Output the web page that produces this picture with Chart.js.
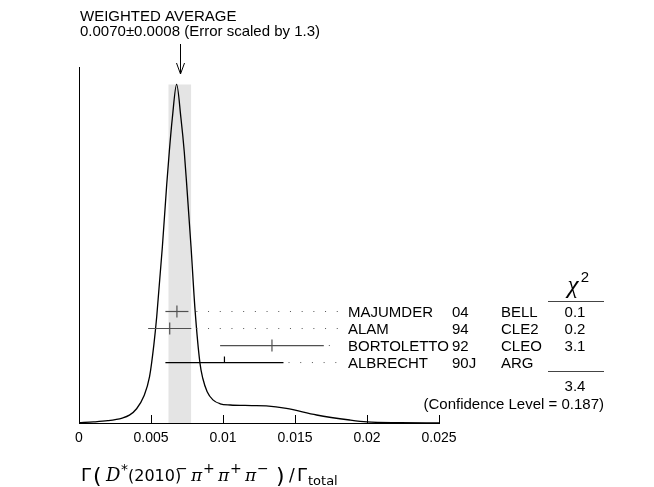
<!DOCTYPE html>
<html>
<head>
<meta charset="utf-8">
<script src="https://cdn.jsdelivr.net/npm/chart.js@4/dist/chart.umd.min.js"></script>
<style>
  html, body { margin: 0; padding: 0; background: #fff; }
  #wrap { width: 654px; height: 487px; position: relative; }
</style>
</head>
<body>
<div id="wrap"><canvas id="ideogram"></canvas></div>
<script>
const names = ['MAJUMDER', 'ALAM', 'BORTOLETTO', 'ALBRECHT'];
const years = ['04', '94', '92', '90J'];
const experiments = ['BELL', 'CLE2', 'CLEO', 'ARG'];
const values = [0.0068, 0.0063, 0.0134, 0.0101];
const errors = [0.0008, 0.0015, 0.0036, 0.0041];
const chi2 = ['0.1', '0.2', '3.1', ''];
const usedInFit = [true, true, true, false];

// weighted average
const average = 0.0070;
const averageError = 0.0008;
const chi2Total = '3.4';
const confidence = '0.187';

// ideogram curve (height relative to the frame)
const curveX = [0, 0.001, 0.002, 0.003, 0.0035, 0.004, 0.0045, 0.0049, 0.0052, 0.0054,
  0.00579, 0.00609, 0.00627, 0.00648, 0.00678, 0.00708, 0.00731, 0.00748, 0.00778, 0.00806,
  0.0084, 0.0086, 0.0089, 0.0093, 0.0098, 0.0105, 0.0120, 0.0130, 0.0144, 0.0165,
  0.0188, 0.0200, 0.0223, 0.025];
const curveY = [0.001, 0.003, 0.0065, 0.014, 0.022, 0.040, 0.075, 0.13, 0.22, 0.30,
  0.495, 0.669, 0.762, 0.856, 0.951, 0.856, 0.762, 0.669, 0.495, 0.317,
  0.168, 0.125, 0.088, 0.065, 0.054, 0.0505, 0.049, 0.048, 0.041, 0.0225,
  0.0084, 0.003, 0.0007, 0];

const xTicks = [0, 0.005, 0.01, 0.015, 0.02, 0.025];

// layout of the rows (y in frame units)
const rowTop = 0.3132;
const rowStep = 0.0478;
const tickH = 0.017;
const dotsEnd = 0.0181;

const bandLo = average - averageError;
const bandHi = average + averageError;
const peak = Math.max(...curveY);

const datasets = [];

// shaded band of the average
datasets.push({
  data: [{ x: bandLo, y: peak }, { x: bandHi, y: peak }],
  showLine: true, fill: 'origin', backgroundColor: '#e4e4e4',
  borderWidth: 0, pointRadius: 0, order: 10
});

// the ideogram
datasets.push({
  data: curveX.map((x, i) => ({ x: x, y: curveY[i] })),
  showLine: true, borderColor: '#000', borderWidth: 1.3,
  pointRadius: 0, cubicInterpolationMode: 'monotone', order: 1
});

// error bars + dotted leaders
names.forEach((n, i) => {
  const y = rowTop - i * rowStep;
  const v = values[i], e = errors[i];
  const col = usedInFit[i] ? '#505050' : '#000';
  datasets.push({
    data: [{ x: v - e, y: y }, { x: v + e, y: y }],
    showLine: true, borderColor: col, borderWidth: 1.2, pointRadius: 0, order: 0
  });
  datasets.push({
    data: usedInFit[i] ? [{ x: v, y: y - tickH }, { x: v, y: y + tickH }]
                       : [{ x: v, y: y }, { x: v, y: y + tickH }],
    showLine: true, borderColor: col, borderWidth: 1.2, pointRadius: 0, order: 0
  });
  datasets.push({
    data: [{ x: Math.max(v + e, bandHi) + 0.00035, y: y }, { x: dotsEnd, y: y }],
    showLine: true, borderColor: '#555', borderWidth: 1, borderDash: [1, 10.7],
    pointRadius: 0, order: 0
  });
});

const SANS = '"Liberation Sans", Arial, sans-serif';

// ticks pointing up into the frame + all the text
const decor = {
  id: 'decor',
  afterDraw(chart) {
    const { ctx, chartArea, scales } = chart;
    const xs = scales.x, ys = scales.y;
    ctx.save();

    ctx.strokeStyle = '#000';
    ctx.lineWidth = 1;
    xTicks.forEach(t => {
      const px = Math.round(xs.getPixelForValue(t)) + 0.5;
      ctx.beginPath();
      ctx.moveTo(px, chartArea.bottom);
      ctx.lineTo(px, chartArea.bottom - 8);
      ctx.stroke();
    });

    // title + arrow
    ctx.fillStyle = '#000';
    ctx.font = '15px ' + SANS;
    ctx.textAlign = 'left';
    ctx.textBaseline = 'alphabetic';
    ctx.fillText('WEIGHTED AVERAGE', 80, 21);
    ctx.fillText(average.toFixed(4) + '\u00b1' + averageError.toFixed(4) + ' (Error scaled by 1.3)', 80, 36);

    const ax = Math.round(xs.getPixelForValue(average)) + 0.5;
    ctx.beginPath();
    ctx.moveTo(ax, 44); ctx.lineTo(ax, 74);
    ctx.moveTo(ax - 4, 63); ctx.lineTo(ax, 74); ctx.lineTo(ax + 4, 63);
    ctx.stroke();

    // rows
    names.forEach((n, i) => {
      const py = ys.getPixelForValue(rowTop - i * rowStep) + 5.5;
      ctx.textAlign = 'left';
      ctx.fillText(n, 348, py);
      ctx.fillText(years[i], 452, py);
      ctx.fillText(experiments[i], 501, py);
      ctx.textAlign = 'center';
      ctx.fillText(chi2[i], 575, py);
    });

    // chi2 column
    ctx.textAlign = 'center';
    ctx.font = 'italic 25px "Liberation Serif", serif';
    ctx.fillText('\u03c7', 573, 293);
    ctx.font = '15px ' + SANS;
    ctx.fillText('2', 585, 282);
    ctx.strokeStyle = '#444';
    ctx.beginPath();
    ctx.moveTo(548, 301.5); ctx.lineTo(604, 301.5);
    ctx.moveTo(548, 371.5); ctx.lineTo(604, 371.5);
    ctx.stroke();
    ctx.fillText(chi2Total, 575, 391);
    ctx.textAlign = 'right';
    ctx.fillText('(Confidence Level = ' + confidence + ')', 604, 409);

    // x axis title
    ctx.textAlign = 'left';
    const base = 481;
    const parts = [
      ['\u0393', '18px "DejaVu Sans"', 81, 0],
      ['(', '22px "DejaVu Sans"', 93, 2],
      ['D', 'italic 18px "DejaVu Serif"', 106, 0],
      ['*', '14px "DejaVu Sans"', 121, -7],
      ['(2010)', '16px "DejaVu Sans"', 128, 0],
      ['\u2212', '14px "DejaVu Sans"', 176, -8],
      ['\u03c0', 'italic 17px "DejaVu Serif"', 191, 0],
      ['+', '14px "DejaVu Sans"', 203, -8],
      ['\u03c0', 'italic 17px "DejaVu Serif"', 218, 0],
      ['+', '14px "DejaVu Sans"', 230, -8],
      ['\u03c0', 'italic 17px "DejaVu Serif"', 245, 0],
      ['\u2212', '14px "DejaVu Sans"', 257, -8],
      [')', '22px "DejaVu Sans"', 276, 2],
      ['/', '17px "DejaVu Sans"', 289, 0],
      ['\u0393', '18px "DejaVu Sans"', 297, 0],
      ['total', '13px "DejaVu Sans"', 308, 4]
    ];
    parts.forEach(p => {
      ctx.font = p[1];
      ctx.fillText(p[0], p[2], base + p[3]);
    });

    ctx.restore();
  }
};

new Chart(document.getElementById('ideogram'), {
  type: 'scatter',
  data: { datasets: datasets },
  options: {
    responsive: true,
    maintainAspectRatio: false,
    animation: false,
    events: [],
    layout: { padding: { left: 79, right: 215, top: 67, bottom: 0 } },
    plugins: { legend: { display: false }, tooltip: { enabled: false } },
    scales: {
      x: {
        type: 'linear', min: 0, max: 0.025,
        afterBuildTicks: s => { s.ticks = xTicks.map(v => ({ value: v })); },
        afterFit: s => { s.height = 64; },
        grid: { display: false, drawTicks: false },
        border: { display: true, color: '#000', width: 1 },
        ticks: {
          padding: 7, color: '#000', maxRotation: 0, autoSkip: false,
          font: { family: SANS, size: 14 },
          callback: v => String(parseFloat(v.toFixed(3)))
        }
      },
      y: {
        type: 'linear', min: 0, max: 1,
        afterFit: s => { s.width = 0; },
        grid: { display: false, drawTicks: false },
        border: { display: true, color: '#000', width: 1 },
        ticks: { display: false }
      }
    }
  },
  plugins: [decor]
});
</script>
</body>
</html>
